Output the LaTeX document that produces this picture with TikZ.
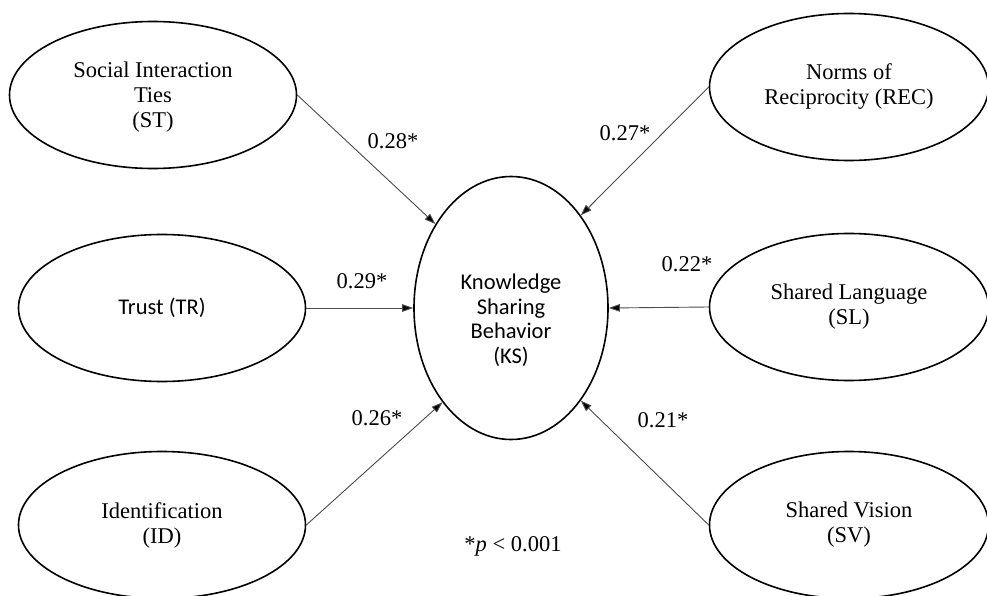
\documentclass[tikz,border=0pt]{standalone}
\usepackage{fontspec}
\setmainfont{Liberation Serif}
\newfontfamily\calib{Carlito}
\usetikzlibrary{shapes.geometric,arrows.meta}
\begin{document}
\begin{tikzpicture}[x=1pt,y=-1pt,
  every node/.style={font=\fontsize{22.5}{25}\selectfont},
  latent/.style={ellipse, draw=black, line width=1.6pt, inner sep=0pt, align=center, fill=white},
  sidebox/.style={latent, minimum width=287pt, minimum height=147pt},
  rightbox/.style={latent, minimum width=279pt, minimum height=147pt},
  path/.style={draw=black!70, line width=0.9pt, -{Triangle[length=11pt,width=7.5pt,fill=black]}},
  coef/.style={inner sep=0pt}
]
\path[use as bounding box, fill=white] (0,0) rectangle (987,596);

\node[sidebox] (ST) at (153,95) {\\[-6pt]Social Interaction\\Ties\\(ST)};
\node[sidebox] (TR) at (162,308) {\calib Trust (TR)};
\node[sidebox] (ID) at (162,525) {Identification\\(ID)};
\node[rightbox] (REC) at (849,87) {Norms of\\Reciprocity (REC)};
\node[rightbox] (SL) at (849,307) {Shared Language\\(SL)};
\node[rightbox] (SV) at (849,525) {Shared Vision\\(SV)};
\node[latent, minimum width=194pt, minimum height=263pt] (KS) at (511,308) {};
\node[align=center, inner sep=0pt, font=\calib\fontsize{22.5}{24.5}\selectfont] (KStext) at (511,320) {Knowledge\\Sharing\\Behavior\\(KS)};

\draw[path] (ST.east) -- (KS.132);
\draw[path] (TR.east) -- (KS.west);
\draw[path] (ID.east) -- (KS.234);
\draw[path] (REC.west) -- (KS.53);
\draw[path] (SL.west) -- (KS.east);
\draw[path] (SV.west) -- (KS.307);

\node[coef] (c1) at (393,141) {0.28*};
\node[coef] (c2) at (362,281) {0.29*};
\node[coef] (c3) at (377,418) {0.26*};
\node[coef] (c4) at (625,133) {0.27*};
\node[coef] (c5) at (687,264) {0.22*};
\node[coef] (c6) at (663,420) {0.21*};
\node[coef] (note) at (513,546) {*\textit{p} < 0.001};
\end{tikzpicture}
\end{document}
